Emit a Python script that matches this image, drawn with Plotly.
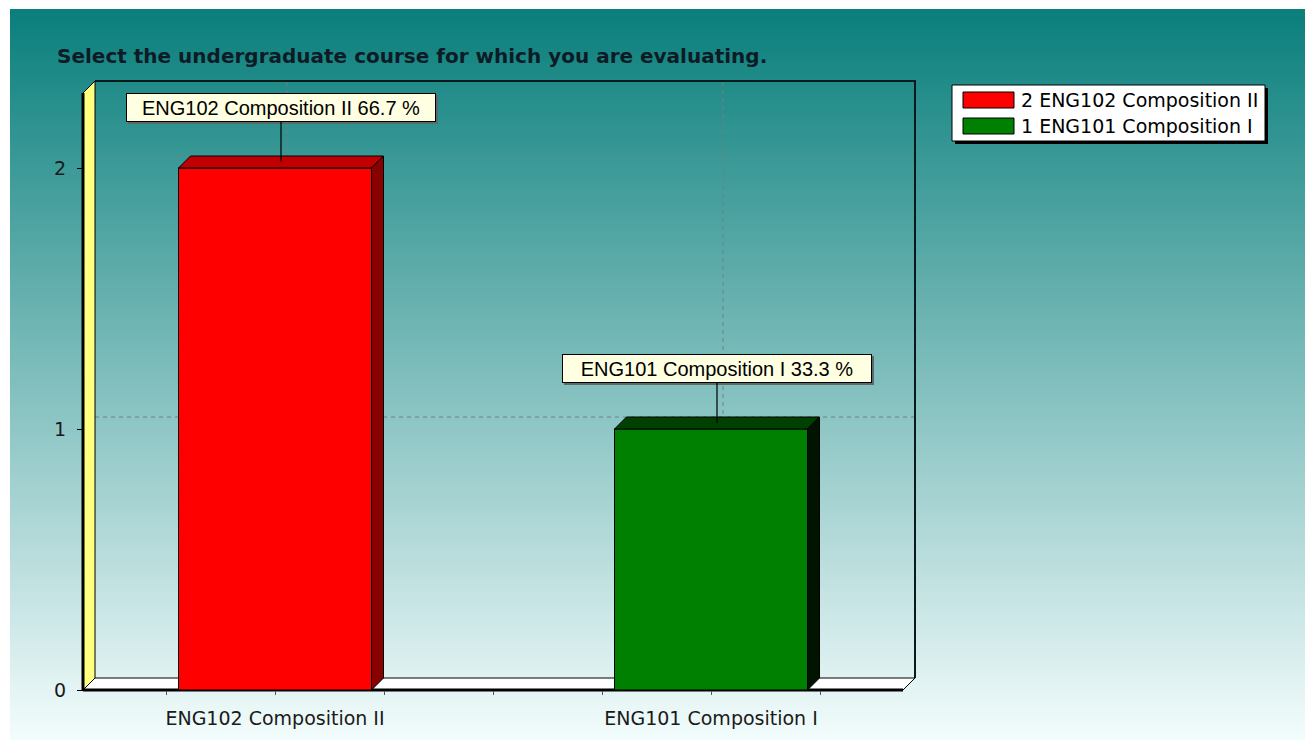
import plotly.graph_objects as go

# ---------------- data ----------------
categories = ["ENG102 Composition II", "ENG101 Composition I"]
counts = [2, 1]
percents = [66.7, 33.3]
legend_labels = ["2 ENG102 Composition II", "1 ENG101 Composition I"]
y_ticks = [0, 1, 2]
title_text = "Select the undergraduate course for which you are evaluating."

# ---------------- styles ----------------
front_colors = ["#ff0000", "#008000"]
top_colors = ["#c00000", "#004000"]
side_colors = ["#880000", "#001400"]

WIDTH, HEIGHT = 1305, 740
L, R, T, B = 76, 920, 76, 692          # plot area in page pixels
X0PX, XS = 275.0, 436.0                # pixel of category 0, pixels per category
Y0PX, YS = 690.0, 261.0                # pixel of value 0, pixels per unit
DXP, DYP = 12.0, 12.0                  # 3D depth in pixels
dx, dy = DXP / XS, DYP / YS
BW = 193.0 / XS                        # bar width in category units
XL, XR, YTOP = (83 - X0PX) / XS, (903 - X0PX) / XS, (Y0PX - 93) / YS

xrange = [(L - X0PX) / XS, (R - X0PX) / XS]
yrange = [(Y0PX - B) / YS, (Y0PX - T) / YS]


def px(xp):
    return (xp - L) / (R - L)


def py(yp):
    return (B - yp) / (B - T)


FONT = "DejaVu Sans"
shapes = []

# background gradient (teal -> near white)
top_c, bot_c = (10, 127, 124), (244, 253, 253)
g0, g1, step = 9, 740, 4
yy = g0
while yy < g1:
    t = (yy - g0) / (g1 - g0)
    c = tuple(round(top_c[i] + (bot_c[i] - top_c[i]) * t) for i in range(3))
    shapes.append(dict(type="rect", xref="paper", yref="paper", layer="below",
                       x0=px(10), x1=px(1320), y0=py(min(yy + step + 0.5, g1 + 2)), y1=py(yy),
                       fillcolor="rgb(%d,%d,%d)" % c, line=dict(width=0)))
    yy += step

# back wall gridlines (dashed)
for v in y_ticks[1:]:
    shapes.append(dict(type="line", xref="x", yref="y", layer="below",
                       x0=XL + dx, x1=XR + dx, y0=v + dy, y1=v + dy,
                       line=dict(color="#6f8080", width=1, dash="4px,4px")))
for i in range(len(categories)):
    shapes.append(dict(type="line", xref="x", yref="y", layer="below",
                       x0=i + dx, x1=i + dx, y0=dy, y1=YTOP + dy,
                       line=dict(color="#6f8080", width=1, dash="4px,4px")))

# back wall frame (top + right)
shapes.append(dict(type="path", xref="x", yref="y", layer="below",
                   path=f"M {XL+dx},{YTOP+dy} L {XR+dx},{YTOP+dy} L {XR+dx},{dy}",
                   line=dict(color="#0a1a1a", width=2)))

# left wall (yellow)
shapes.append(dict(type="path", xref="x", yref="y", layer="below",
                   path=f"M {XL},0 L {XL+dx},{dy} L {XL+dx},{YTOP+dy} L {XL},{YTOP} Z",
                   fillcolor="#ffff80", line=dict(color="#000000", width=1)))
# floor (white)
shapes.append(dict(type="path", xref="x", yref="y", layer="below",
                   path=f"M {XL},0 L {XL+dx},{dy} L {XR+dx},{dy} L {XR},0 Z",
                   fillcolor="#ffffff", line=dict(color="#000000", width=1)))
# front axis lines
shapes.append(dict(type="line", xref="x", yref="y", layer="below",
                   x0=XL, x1=XL, y0=0, y1=YTOP, line=dict(color="#000000", width=3)))
shapes.append(dict(type="line", xref="x", yref="y", layer="below",
                   x0=XL, x1=XR, y0=0, y1=0, line=dict(color="#000000", width=3)))

# 3D faces of bars
for i, v in enumerate(counts):
    xa, xb = i - BW / 2, i + BW / 2
    shapes.append(dict(type="path", xref="x", yref="y", layer="above",
                       path=f"M {xa},{v} L {xa+dx},{v+dy} L {xb+dx},{v+dy} L {xb},{v} Z",
                       fillcolor=top_colors[i], line=dict(color="#000000", width=1)))
    shapes.append(dict(type="path", xref="x", yref="y", layer="above",
                       path=f"M {xb},0 L {xb+dx},{dy} L {xb+dx},{v+dy} L {xb},{v} Z",
                       fillcolor=side_colors[i], line=dict(color="#000000", width=1)))

# legend box (manual)
shapes.append(dict(type="rect", xref="paper", yref="paper", layer="above",
                   x0=px(955), x1=px(1268), y0=py(144), y1=py(88),
                   fillcolor="#000000", line=dict(width=0)))
shapes.append(dict(type="rect", xref="paper", yref="paper", layer="above",
                   x0=px(952), x1=px(1265), y0=py(141), y1=py(85),
                   fillcolor="#ffffff", line=dict(color="#000000", width=1)))

annotations = []
legend_rows = [100, 126]
for i, lab in enumerate(legend_labels):
    yc = legend_rows[i]
    shapes.append(dict(type="rect", xref="paper", yref="paper", layer="above",
                       x0=px(963), x1=px(1014), y0=py(yc + 8), y1=py(yc - 8),
                       fillcolor=front_colors[i], line=dict(color="#000000", width=1)))
    annotations.append(dict(xref="paper", yref="paper", x=px(1019), y=py(yc),
                            xanchor="left", yanchor="middle", showarrow=False,
                            text=lab, font=dict(family=FONT, size=19, color="#000000")))

# title
annotations.append(dict(xref="paper", yref="paper", x=px(55), y=py(56),
                        xanchor="left", yanchor="middle", showarrow=False,
                        text="<b>" + title_text + "</b>",
                        font=dict(family=FONT, size=20, color="#0d1b26")))

# value marks with connector
for i, (cat, v, p) in enumerate(zip(categories, counts, percents)):
    txt = f"{cat} {p:.1f} %"
    common = dict(xref="x", yref="y", x=i + dx / 2, y=v + dy / 2, ax=0, ay=-55,
                  text=txt, width=308, height=27, borderpad=0, align="center",
                  font=dict(family="Liberation Sans", size=20, color="#000000"))
    annotations.append(dict(common, showarrow=True, arrowcolor="rgba(0,0,0,0)",
                            xshift=2, yshift=-2, bgcolor="#5a6a6a", borderwidth=1,
                            bordercolor="#5a6a6a",
                            font=dict(family="Liberation Sans", size=20, color="rgba(0,0,0,0)")))
    annotations.append(dict(common, showarrow=True, arrowhead=0, arrowwidth=1.2,
                            arrowcolor="#000000", bgcolor="#ffffe1",
                            bordercolor="#000000", borderwidth=1))

fig = go.Figure()
fig.add_trace(go.Bar(
    x=list(range(len(categories))), y=counts, width=BW,
    marker=dict(color=front_colors, line=dict(color="#000000", width=1)),
    hoverinfo="skip", showlegend=False))

xt_vals = [-0.25, 0, 0.25, 0.5, 0.75, 1, 1.25]
xt_text = ["", categories[0], "", "", "", categories[1], ""]

fig.update_layout(
    width=WIDTH, height=HEIGHT,
    margin=dict(l=L, r=WIDTH - R, t=T, b=HEIGHT - B, pad=0),
    paper_bgcolor="#ffffff", plot_bgcolor="rgba(0,0,0,0)",
    showlegend=False, shapes=shapes, annotations=annotations,
    xaxis=dict(range=xrange, tickmode="array", tickvals=xt_vals, ticktext=xt_text,
               showgrid=False, zeroline=False, showline=False,
               ticks="outside", ticklen=4, tickcolor="#555555", tickwidth=1,
               anchor="free", position=py(690), ticklabelstandoff=7,
               tickfont=dict(family=FONT, size=19, color="#1a1a1a"), automargin=False,
               fixedrange=True),
    yaxis=dict(range=yrange, tickmode="array", tickvals=y_ticks,
               ticktext=[str(v) for v in y_ticks],
               showgrid=False, zeroline=False, showline=False,
               ticks="outside", ticklen=6, tickcolor="#000000", tickwidth=1,
               anchor="free", position=px(83), ticklabelstandoff=7,
               tickfont=dict(family=FONT, size=19, color="#1a1a1a"), automargin=False,
               fixedrange=True),
)

fig.write_html("out.html", config={"displayModeBar": False, "staticPlot": True},
               post_script="document.body.style.margin='0';document.body.style.overflow='hidden';")
